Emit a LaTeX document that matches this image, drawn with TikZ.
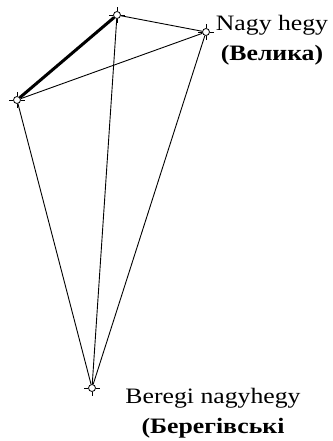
\documentclass[tikz,border=0pt]{standalone}
\usepackage{fontspec}
\setmainfont{Liberation Serif}

\begin{document}
\begin{tikzpicture}[x=1pt, y=-1pt,
        vertex/.style={circle, draw, fill=white, line width=0.8pt, inner sep=0pt, minimum size=7pt,
            append after command={[line width=0.8pt]
                (\tikzlastnode.north) edge +(0,4pt) (\tikzlastnode.south) edge +(0,-4pt)
                (\tikzlastnode.east) edge +(4pt,0) (\tikzlastnode.west) edge +(-4pt,0)}},
        link/.style={line width=0.9pt},
        lbl/.style={align=center, inner sep=0pt, xscale=1.17,
            font=\fontsize{22}{30}\selectfont}]
      \useasboundingbox (0,0) rectangle (332,441);
      % points
      \node[vertex] (A) at (117,15) {};
      \node[vertex] (B) at (206,32) {};
      \node[vertex] (C) at (17,100) {};
      \node[vertex] (D) at (92,388) {};
      % lines
      \draw[link] (A) -- (B);
      \draw[link] (B) -- (C);
      \draw[link] (A) -- (D);
      \draw[link] (B) -- (D);
      \draw[link] (C) -- (D);
      \draw[line width=3pt] (A) -- (C);
      % labels (base = last line)
      \node[lbl, anchor=base] (lblB) at (272,61) {Nagy hegy\\\textbf{(Велика)}};
      \node[lbl, anchor=base] (lblD) at (213,433) {Beregi nagyhegy\\\textbf{(Берегівські}};
    \end{tikzpicture}
\end{document}
